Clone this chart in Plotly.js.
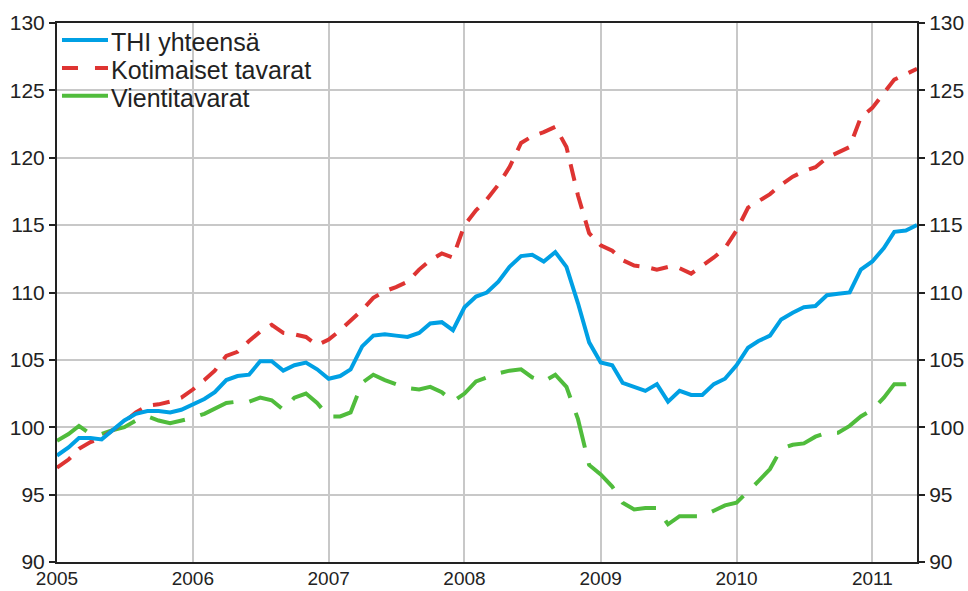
<!DOCTYPE html>
<html>
<head>
<meta charset="utf-8">
<script src="https://cdn.plot.ly/plotly-3.0.1.min.js"></script>
<style>html,body{margin:0;padding:0;background:#fff;}#chart{width:968px;height:591px;}</style>
</head>
<body>
<div id="chart"></div>
<script>
// Series names
const seriesNames = ["THI yhteensä", "Kotimaiset tavarat", "Vientitavarat"];

// Monthly categories: January 2005 .. May 2011
const startYear = 2005, monthCount = 77;
const months = [];
for (let i = 0; i < monthCount; i++) {
  const y = startYear + Math.floor(i / 12);
  const m = (i % 12) + 1;
  months.push(y + "-" + (m < 10 ? "0" + m : m) + "-01");
}

// Values (index 2005 = 100)
const thiTotal = [
  97.9, 98.5, 99.2, 99.2, 99.1, 99.8, 100.5, 101.0, 101.2, 101.2, 101.1, 101.3,
  101.7, 102.1, 102.6, 103.5, 103.8, 103.9, 104.9, 104.9, 104.2, 104.6, 104.8, 104.3,
  103.6, 103.8, 104.3, 106.0, 106.8, 106.9, 106.8, 106.7, 107.0, 107.7, 107.8, 107.2,
  108.9, 109.7, 110.0, 110.8, 111.9, 112.7, 112.8, 112.3, 113.0, 111.9, 109.2, 106.3,
  104.8, 104.6, 103.3, 103.0, 102.7, 103.2, 101.9, 102.7, 102.4, 102.4, 103.2, 103.6,
  104.6, 105.9, 106.4, 106.8, 108.0, 108.5, 108.9, 109.0, 109.8, 109.9, 110.0, 111.7,
  112.3, 113.3, 114.5, 114.6, 115.0
];
const domesticGoods = [
  97.0, 97.6, 98.4, 98.9, 99.2, 99.8, 100.4, 101.1, 101.6, 101.7, 101.9, 102.2,
  102.8, 103.5, 104.2, 105.3, 105.6, 106.4, 107.1, 107.6, 107.0, 106.9, 106.7, 106.1,
  106.5, 107.2, 107.9, 108.7, 109.6, 110.1, 110.4, 110.8, 111.7, 112.4, 112.9, 112.6,
  115.0, 116.1, 116.9, 118.0, 119.3, 121.1, 121.6, 121.9, 122.3, 120.8, 117.2, 114.4,
  113.5, 113.1, 112.4, 112.0, 111.9, 111.7, 111.9, 111.8, 111.4, 112.0, 112.6, 113.3,
  114.6, 116.3, 116.8, 117.3, 118.0, 118.6, 119.0, 119.3, 120.0, 120.4, 120.8, 123.0,
  123.7, 124.8, 125.8, 126.2, 126.6
];
const exportGoods = [
  99.0, 99.5, 100.1, 99.5, 99.5, 99.8, 100.0, 100.5, 100.8, 100.5, 100.3, 100.5,
  100.7, 101.0, 101.4, 101.8, 101.9, 101.9, 102.2, 102.0, 101.3, 102.2, 102.5, 101.8,
  100.8, 100.8, 101.1, 103.3, 103.9, 103.5, 103.2, 102.9, 102.8, 103.0, 102.6, 101.9,
  102.5, 103.4, 103.7, 104.0, 104.2, 104.3, 103.7, 103.4, 103.9, 103.0, 100.6, 97.2,
  96.5, 95.6, 94.4, 93.9, 94.0, 94.0, 92.8, 93.4, 93.4, 93.4, 93.8, 94.2,
  94.4, 95.2, 96.0, 96.9, 98.4, 98.7, 98.8, 99.3, 99.6, 99.6, 100.1, 100.8,
  101.3, 102.2, 103.2, 103.2, 103.4
];

const colors = ["rgb(0,160,228)", "rgb(222,52,50)", "rgb(80,188,60)"];
const chartDash = ["solid", "17px,12px", "36px,16px"];
const legendDash = ["solid", "16px,17px", "solid"];
const values = [thiTotal, domesticGoods, exportGoods];
const axisOf = ["y2", "y", "y"];

const traces = values.map((v, i) => ({
  x: months, y: v, type: "scatter", mode: "lines", name: seriesNames[i],
  yaxis: axisOf[i],
  line: {color: colors[i], width: 4, dash: chartDash[i], shape: "linear"},
  showlegend: false, hoverinfo: "skip"
})).reverse();

// Manual legend (symbols 45px wide, green symbol solid as in the reference)
const legendY = [0.9685, 0.9167, 0.8648];
const shapes = legendY.map((yy, i) => ({
  type: "line", xref: "paper", yref: "paper",
  x0: 0.0058, x1: 0.0593, y0: yy, y1: yy,
  line: {color: colors[i], width: 4, dash: legendDash[i]}
}));
const annotations = legendY.map((yy, i) => ({
  xref: "paper", yref: "paper", x: 0.061, y: yy - 0.004,
  xanchor: "left", yanchor: "middle", showarrow: false,
  text: seriesNames[i],
  font: {family: "Liberation Sans, Arial, sans-serif", size: 25, color: "#222"}
}));

const tickFont = {family: "Liberation Sans, Arial, sans-serif", size: 21, color: "#222"};
const xTickFont = {family: "Liberation Sans, Arial, sans-serif", size: 19, color: "#222"};

const layout = {
  width: 968, height: 591,
  margin: {l: 57, r: 51, t: 23, b: 29, pad: 0},
  paper_bgcolor: "#fff", plot_bgcolor: "#fff",
  showlegend: false,
  xaxis: {
    type: "date", range: ["2005-01-01", "2011-05-01"],
    tickmode: "linear", tick0: "2005-01-01", dtick: "M12", tickformat: "%Y",
    showgrid: true, gridcolor: "#c8c8c8", gridwidth: 2,
    showline: true, linecolor: "#222", linewidth: 2, mirror: true,
    ticks: "", ticklabelstandoff: -2, zeroline: false, tickfont: xTickFont
  },
  yaxis: {
    range: [90, 130], tickmode: "linear", tick0: 90, dtick: 5,
    showgrid: true, gridcolor: "#c8c8c8", gridwidth: 2,
    showline: true, linecolor: "#222", linewidth: 2,
    ticks: "outside", ticklen: 6, tickwidth: 2, tickcolor: "#222",
    zeroline: false, tickfont: tickFont
  },
  yaxis2: {
    overlaying: "y", side: "right", range: [90, 130], tickmode: "linear", tick0: 90, dtick: 5,
    showgrid: false, showline: true, linecolor: "#222", linewidth: 2,
    ticks: "outside", ticklen: 6, tickwidth: 2, tickcolor: "#222",
    zeroline: false, tickfont: tickFont
  },
  shapes: shapes,
  annotations: annotations
};

Plotly.newPlot("chart", traces, layout, {staticPlot: true, displayModeBar: false});
</script>
</body>
</html>
